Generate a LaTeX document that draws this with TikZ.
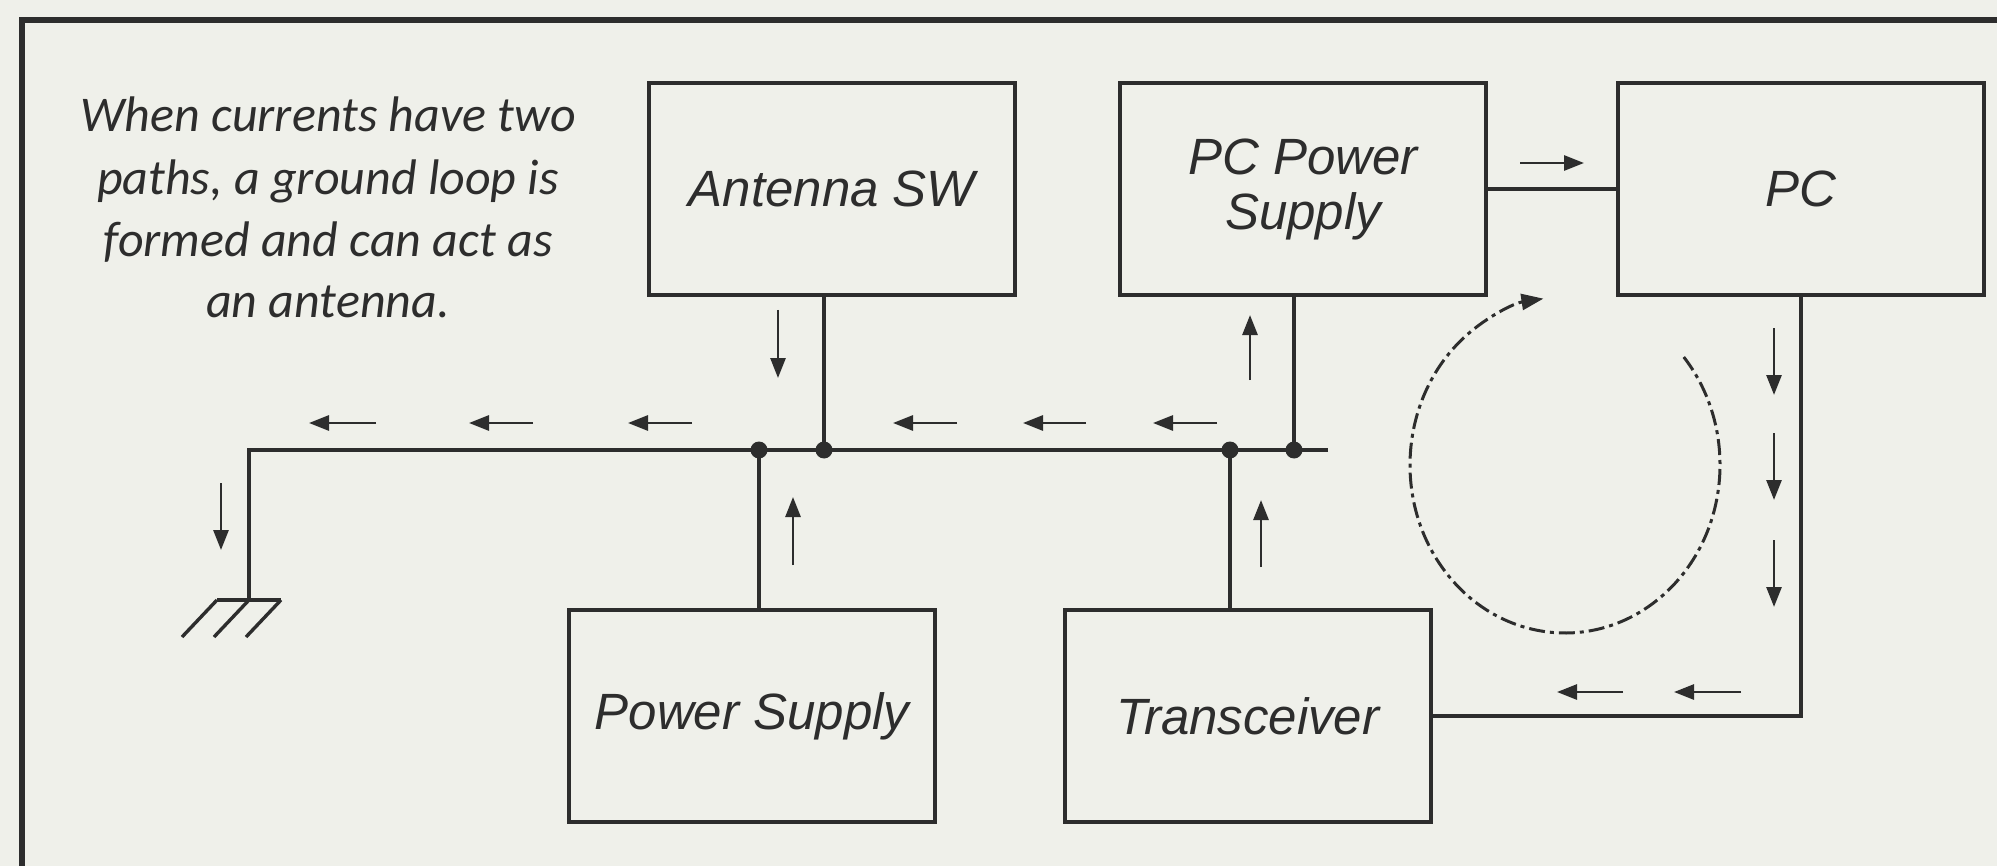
\documentclass[tikz,border=0pt]{standalone}
\usepackage{fontspec}
\setmainfont{Liberation Sans}
\newfontfamily\calib{Carlito}
\usetikzlibrary{arrows.meta}
\definecolor{bg}{RGB}{239,240,234}
\definecolor{ink}{RGB}{45,45,45}
\begin{document}
\begin{tikzpicture}[x=0.5pt,y=-0.5pt,
  box/.style={draw=ink, line width=1.7pt, minimum width=183pt, minimum height=106pt,
    inner sep=0pt, font=\itshape\fontsize{25.5}{27.5}\selectfont, text=ink, align=center},
  wire/.style={draw=ink, line width=1.7pt},
  cur/.style={draw=ink, line width=1.4pt, -{Triangle[length=10pt,width=7.5pt]}},
  loopline/.style={draw=ink, line width=1.5pt, dash pattern=on 8pt off 2.5pt on 2pt off 2.5pt,
    -{Triangle[length=11pt,width=8pt]}},
  jdot/.style={circle, fill=ink, inner sep=0pt, minimum size=8.5pt}]
\fill[bg] (0,0) rectangle (1997,866);
\useasboundingbox (0,0) rectangle (1997,866);
% frame
\draw[ink, line width=2.6pt] (22,866) -- (22,20) -- (1997,20);
% note
\node[font=\calib\itshape\fontsize{25}{31}\selectfont, align=center, text=ink, anchor=base]
  (note) at (328,318) {When currents have two\\paths, a ground loop is\\formed and can act as\\an antenna.};
% boxes
\node[box] (asw) at (832,189) {Antenna SW};
\node[box] (pcps) at (1303,189) {PC Power\\Supply};
\node[box] (pc) at (1801,189) {PC};
\node[box] (ps) at (752,716) {Power Supply};
\node[box] (trx) at (1248,716) {Transceiver};
% bus
\coordinate (bl) at (249,450);
\coordinate (br) at (1328,450);
\coordinate (g) at (249,600);
\node[jdot] (j1) at (759,450) {};
\node[jdot] (j2) at (824,450) {};
\node[jdot] (j3) at (1230,450) {};
\node[jdot] (j4) at (1294,450) {};
\draw[wire] (br) -- (bl) -- (g);
\draw[wire] (asw.south -| j2) -- (j2.center);
\draw[wire] (pcps.south -| j4) -- (j4.center);
\draw[wire] (ps.north -| j1) -- (j1.center);
\draw[wire] (trx.north -| j3) -- (j3.center);
\draw[wire] (pcps.east) -- (pc.west);
\draw[wire] (pc.south) -- (pc.south |- trx.east) -- (trx.east);
% ground symbol
\draw[wire] ([xshift=-16pt]g) -- ([xshift=16pt]g);
\draw[wire] ([xshift=-16pt]g) -- ++(-35,37);
\draw[wire] (g) -- ++(-35,37);
\draw[wire] ([xshift=16pt]g) -- ++(-35,37);
% current arrows along bus
\draw[cur] (376,423) -- (309,423);
\draw[cur] (533,423) -- (469,423);
\draw[cur] (692,423) -- (628,423);
\draw[cur] (957,423) -- (893,423);
\draw[cur] (1086,423) -- (1023,423);
\draw[cur] (1217,423) -- (1153,423);
\draw[cur] (221,483) -- (221,550);
% vertical arrows
\draw[cur] (778,310) -- (778,378);
\draw[cur] (1250,380) -- (1250,315);
\draw[cur] (793,565) -- (793,497);
\draw[cur] (1261,567) -- (1261,500);
% PC side
\draw[cur] (1520,163) -- (1584,163);
\draw[cur] (1774,328) -- (1774,395);
\draw[cur] (1774,433) -- (1774,500);
\draw[cur] (1774,540) -- (1774,607);
\draw[cur] (1623,692) -- (1557,692);
\draw[cur] (1741,692) -- (1674,692);
% loop
\coordinate (lc) at (1565,465);
\draw[loopline] ([shift={(40:77.5pt and 84pt)}]lc) arc[start angle=40, end angle=-262, x radius=77.5pt, y radius=84pt];
\end{tikzpicture}
\end{document}
